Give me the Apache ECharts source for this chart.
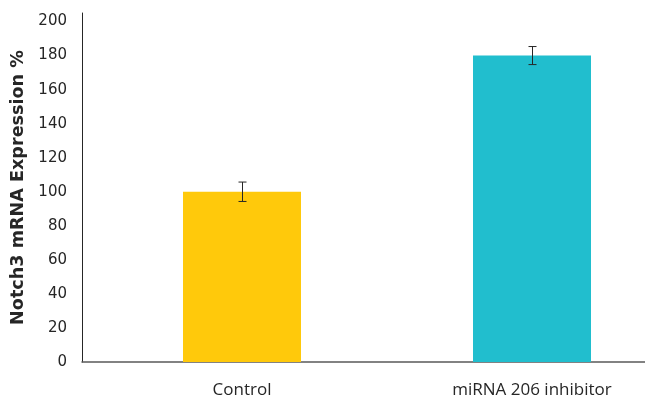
<!DOCTYPE html>
<html>
<head>
<meta charset="utf-8">
<script src="https://cdn.jsdelivr.net/npm/echarts@6/dist/echarts.min.js"></script>
<style>html,body{margin:0;padding:0;background:#fff}#c{width:645px;height:400px}</style>
</head>
<body>
<div id="c"></div>
<script>
const categories = ['Control', 'miRNA 206 inhibitor'];
const values = [100, 180];
const errors = [5.7, 5.3];
const barColors = ['#FFC90B', '#21BECE'];
const yTicks = [0, 20, 40, 60, 80, 100, 120, 140, 160, 180, 200];
const yTitle = 'Notch3 mRNA Expression %';

const chart = echarts.init(document.getElementById('c'));
chart.setOption({
  animation: false,
  grid: [
    {left: 97, width: 580, top: 13, bottom: 38, outerBoundsMode: 'none', containLabel: false},
    {left: 82, right: 0, top: 13, bottom: 38, outerBoundsMode: 'none', containLabel: false}
  ],
  xAxis: [
    {type: 'category', gridIndex: 0, data: categories,
     axisLine: {show: false}, axisTick: {show: false},
     axisLabel: {fontFamily: 'Open Sans', fontSize: 17, color: '#262626', margin: 20}},
    {type: 'value', gridIndex: 1, min: 0, max: 1,
     axisLine: {show: true, lineStyle: {color: '#595959', width: 1.5}},
     axisTick: {show: false}, axisLabel: {show: false}, splitLine: {show: false}}
  ],
  yAxis: [
    {type: 'value', gridIndex: 0, min: 0, max: 205, show: false, splitLine: {show: false}},
    {type: 'value', gridIndex: 1, min: 0, max: 205, interval: 20,
     axisLine: {show: true, lineStyle: {color: '#262626', width: 1}},
     axisTick: {show: false}, splitLine: {show: false},
     axisLabel: {fontFamily: 'DejaVu Sans', fontSize: 15, color: '#262626', margin: 15,
       formatter: v => yTicks.includes(v) ? String(v) : ''},
     name: yTitle, nameLocation: 'middle', nameGap: 55,
     nameTextStyle: {fontFamily: 'DejaVu Sans', fontSize: 17.6, fontWeight: 'bold', color: '#262626'}}
  ],
  series: [
    {type: 'bar', xAxisIndex: 0, yAxisIndex: 0, barWidth: 118,
     data: values.map((v, i) => ({value: v, itemStyle: {color: barColors[i]}}))},
    {type: 'custom', xAxisIndex: 0, yAxisIndex: 0, z: 10,
     data: values.map((v, i) => [i, v - errors[i], v + errors[i]]),
     renderItem: (params, api) => {
       const lo = api.coord([api.value(0), api.value(1)]);
       const hi = api.coord([api.value(0), api.value(2)]);
       const x = Math.round(lo[0]) + 0.5;
       const hw = 4;
       const style = {stroke: '#262626', lineWidth: 1};
       return {type: 'group', children: [
         {type: 'line', shape: {x1: x, y1: hi[1], x2: x, y2: lo[1]}, style},
         {type: 'line', shape: {x1: x - hw, y1: hi[1], x2: x + hw, y2: hi[1]}, style},
         {type: 'line', shape: {x1: x - hw, y1: lo[1], x2: x + hw, y2: lo[1]}, style}
       ]};
     }}
  ]
});
</script>
</body>
</html>
